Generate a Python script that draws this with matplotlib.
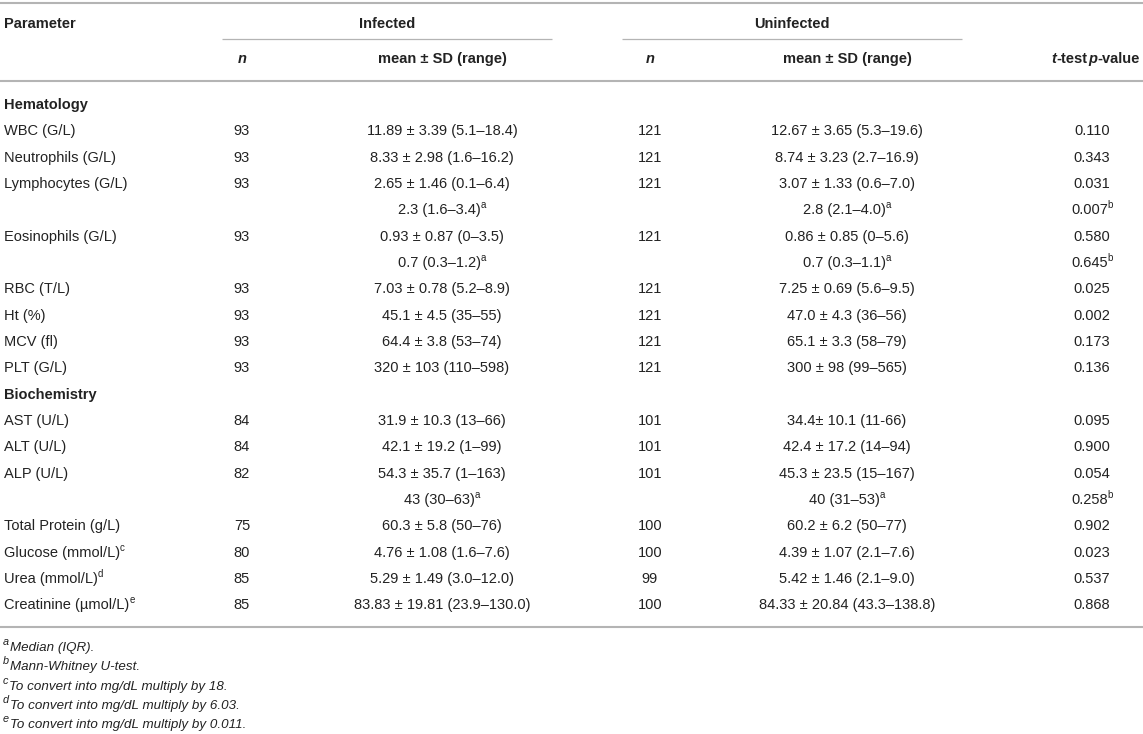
import matplotlib
matplotlib.use("Agg")
import matplotlib.pyplot as plt

W, H = 1143, 734
FONT = "Liberation Sans"
TXT = "#222222"
RULE = "#b4b4b4"

# table content
sections = ["Hematology", "Biochemistry"]
section_before = [0, 10]  # row index where the section heading sits above

labels = ["WBC (G/L)", "Neutrophils (G/L)", "Lymphocytes (G/L)", "", "Eosinophils (G/L)", "",
          "RBC (T/L)", "Ht (%)", "MCV (fl)", "PLT (G/L)",
          "AST (U/L)", "ALT (U/L)", "ALP (U/L)", "", "Total Protein (g/L)",
          "Glucose (mmol/L)", "Urea (mmol/L)", "Creatinine (\u00b5mol/L)"]
label_sup = ["", "", "", "", "", "", "", "", "", "",
             "", "", "", "", "", "c", "d", "e"]

n_inf = ["93", "93", "93", "", "93", "", "93", "93", "93", "93",
         "84", "84", "82", "", "75", "80", "85", "85"]
mean_inf = ["11.89 \u00b1 3.39 (5.1\u201318.4)", "8.33 \u00b1 2.98 (1.6\u201316.2)",
            "2.65 \u00b1 1.46 (0.1\u20136.4)", "2.3 (1.6\u20133.4)",
            "0.93 \u00b1 0.87 (0\u20133.5)", "0.7 (0.3\u20131.2)",
            "7.03 \u00b1 0.78 (5.2\u20138.9)", "45.1 \u00b1 4.5 (35\u201355)",
            "64.4 \u00b1 3.8 (53\u201374)", "320 \u00b1 103 (110\u2013598)",
            "31.9 \u00b1 10.3 (13\u201366)", "42.1 \u00b1 19.2 (1\u201399)",
            "54.3 \u00b1 35.7 (1\u2013163)", "43 (30\u201363)",
            "60.3 \u00b1 5.8 (50\u201376)", "4.76 \u00b1 1.08 (1.6\u20137.6)",
            "5.29 \u00b1 1.49 (3.0\u201312.0)", "83.83 \u00b1 19.81 (23.9\u2013130.0)"]
n_uninf = ["121", "121", "121", "", "121", "", "121", "121", "121", "121",
           "101", "101", "101", "", "100", "100", "99", "100"]
mean_uninf = ["12.67 \u00b1 3.65 (5.3\u201319.6)", "8.74 \u00b1 3.23 (2.7\u201316.9)",
              "3.07 \u00b1 1.33 (0.6\u20137.0)", "2.8 (2.1\u20134.0)",
              "0.86 \u00b1 0.85 (0\u20135.6)", "0.7 (0.3\u20131.1)",
              "7.25 \u00b1 0.69 (5.6\u20139.5)", "47.0 \u00b1 4.3 (36\u201356)",
              "65.1 \u00b1 3.3 (58\u201379)", "300 \u00b1 98 (99\u2013565)",
              "34.4\u00b1 10.1 (11-66)", "42.4 \u00b1 17.2 (14\u201394)",
              "45.3 \u00b1 23.5 (15\u2013167)", "40 (31\u201353)",
              "60.2 \u00b1 6.2 (50\u201377)", "4.39 \u00b1 1.07 (2.1\u20137.6)",
              "5.42 \u00b1 1.46 (2.1\u20139.0)", "84.33 \u00b1 20.84 (43.3\u2013138.8)"]
mean_sup = ["", "", "", "a", "", "a", "", "", "", "",
            "", "", "", "a", "", "", "", ""]
p_values = ["0.110", "0.343", "0.031", "0.007", "0.580", "0.645", "0.025", "0.002",
            "0.173", "0.136", "0.095", "0.900", "0.054", "0.258", "0.902", "0.023",
            "0.537", "0.868"]
p_sup = ["", "", "", "b", "", "b", "", "", "", "",
         "", "", "", "b", "", "", "", ""]

foot_keys = ["a", "b", "c", "d", "e"]
foot_texts = ["Median (IQR).", "Mann-Whitney U-test.", "To convert into mg/dL multiply by 18.",
              "To convert into mg/dL multiply by 6.03.", "To convert into mg/dL multiply by 0.011."]

# layout (pixels from top-left)
X_PAR, X_N1, X_M1, X_N2, X_M2, X_P, X_PHEAD = 4, 242, 442, 650, 847, 1092, 1140
SIZE, SUP, FOOT, FOOT_SUP = 10.5, 7.0, 9.6, 7.8
ROW0, STEP = 104, 26.33


def runs(ax, x, y, parts, ha="left", size=SIZE):
    """draw a list of (text, style) pieces on one baseline; style: n, b, i, bi, sup, isup"""
    r = ax.figure.canvas.get_renderer()
    objs, widths, gaps = [], [], []
    for s, st in parts:
        kw = dict(family=FONT, color=TXT, va="baseline", ha="left", size=size)
        yy = y
        gap = 0.5
        if "sup" in st:
            kw["size"] = SUP if size == SIZE else FOOT_SUP
            yy = y - 6
            gap = 0.0
        if "b" in st:
            kw["weight"] = "bold"
        if "i" in st:
            kw["style"] = "italic"
        t = ax.text(0, yy, s, **kw)
        objs.append(t)
        widths.append(t.get_window_extent(r).width)
        gaps.append(gap)
    total = sum(widths) + sum(gaps[1:])
    cur = {"left": x, "center": x - total / 2, "right": x - total}[ha]
    for j, (t, w) in enumerate(zip(objs, widths)):
        if j:
            cur += gaps[j]
        t.set_x(cur)
        cur += w


def hline(ax, y, x0=0, x1=W, lw=1.5):
    ax.plot([x0, x1], [y, y], color=RULE, lw=lw, solid_capstyle="butt")


fig = plt.figure(figsize=(W / 100, H / 100), dpi=100)
ax = fig.add_axes([0, 0, 1, 1])
ax.set_xlim(0, W); ax.set_ylim(H, 0); ax.axis("off")
fig.canvas.draw()

# header
hline(ax, 3)
runs(ax, X_PAR, 28, [("Parameter", "b")])
runs(ax, 387, 28, [("Infected", "b")], ha="center")
runs(ax, 792, 28, [("Uninfected", "b")], ha="center")
hline(ax, 39, 222, 552, lw=0.9); hline(ax, 39, 622, 962, lw=0.9)
runs(ax, X_N1, 63, [("n", "bi")], ha="center")
runs(ax, X_M1, 63, [("mean \u00b1 SD (range)", "b")], ha="center")
runs(ax, X_N2, 63, [("n", "bi")], ha="center")
runs(ax, X_M2, 63, [("mean \u00b1 SD (range)", "b")], ha="center")
runs(ax, X_PHEAD, 63, [("t", "bi"), ("-test", "b"), ("p", "bi"), ("-value", "b")], ha="right")
hline(ax, 81)

# body
k = 0
for i in range(len(labels)):
    if i in section_before:
        runs(ax, X_PAR, ROW0 + k * STEP + 5, [(sections[section_before.index(i)], "b")])
        k += 1
    yb = ROW0 + k * STEP + 5
    if labels[i]:
        parts = [(labels[i], "n")] + ([(label_sup[i], "sup")] if label_sup[i] else [])
        runs(ax, X_PAR, yb, parts)
    if n_inf[i]:
        runs(ax, X_N1, yb, [(n_inf[i], "n")], ha="center")
    if n_uninf[i]:
        runs(ax, X_N2, yb, [(n_uninf[i], "n")], ha="center")
    for xc, txt in ((X_M1, mean_inf[i]), (X_M2, mean_uninf[i])):
        parts = [(txt, "n")] + ([(mean_sup[i], "sup")] if mean_sup[i] else [])
        runs(ax, xc, yb, parts, ha="center")
    parts = [(p_values[i], "n")] + ([(p_sup[i], "sup")] if p_sup[i] else [])
    runs(ax, X_P, yb, parts, ha="center")
    k += 1

hline(ax, 627)

# footnotes
for j, (key, txt) in enumerate(zip(foot_keys, foot_texts)):
    runs(ax, 3, 651 + j * 19.3, [(key, "isup"), (txt, "i")], size=FOOT)

fig.savefig("out.png", dpi=100)
